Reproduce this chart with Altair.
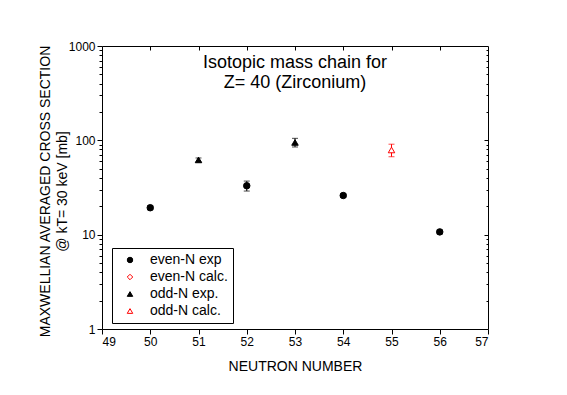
import altair as alt
import pandas as pd

# ---- data ----
neutrons = [50, 51, 52, 53, 54, 55, 56]
macs = [19.3, 62.0, 33.0, 95.0, 26.0, 79.0, 10.7]
errors = [0.9, 3.0, 4.0, 10.0, 1.0, 12.0, 0.5]
series = ["even-N exp", "odd-N exp.", "even-N exp", "odd-N exp.",
          "even-N exp", "odd-N calc.", "even-N exp"]

series_names = ["even-N exp", "even-N calc.", "odd-N exp.", "odd-N calc."]
series_shapes = ["circle", "diamond", "triangle-up", "triangle-up"]
series_stroke = ["black", "red", "black", "red"]
series_fill = ["black", "white", "black", "white"]

x_ticks = [49, 50, 51, 52, 53, 54, 55, 56, 57]
x_inner_ticks = [50, 51, 52, 53, 54, 55, 56]
y_major = [1, 10, 100, 1000]
y_inner_major = [10, 100]
y_minor = [m * d for d in (1, 10, 100) for m in range(2, 10)]

title_lines = ["Isotopic mass chain for", "Z= 40 (Zirconium)"]
x_title = "NEUTRON NUMBER"
y_title = ["MAXWELLIAN AVERAGED CROSS SECTION", "@ kT= 30 keV [mb]"]

FONT = "Liberation Sans"

df = pd.DataFrame({
    "n": neutrons,
    "v": macs,
    "lo": [v - e for v, e in zip(macs, errors)],
    "hi": [v + e for v, e in zip(macs, errors)],
    "series": series,
})

xs = alt.Scale(domain=[49, 57], nice=False, zero=False)
ys = alt.Scale(type="log", domain=[1, 1000], nice=False)

base = alt.Chart(df)

leg = alt.Legend(
    title=None, orient="none", legendX=10, legendY=202,
    strokeColor="black", padding=5, symbolSize=30, symbolStrokeWidth=1,
    symbolOffset=6, labelOffset=13, labelFont=FONT, labelFontSize=14,
    labelColor="black", rowPadding=3,
)

x_bottom = alt.Axis(values=x_ticks, format="d", tickSize=5, tickColor="black",
                    labelFont=FONT, labelFontSize=12, labelColor="black", labelPadding=2,
                    domain=False, grid=False, title=x_title, titleFont=FONT,
                    titleFontSize=14, titleFontWeight="normal", titleColor="black",
                    titleY=37, titleBaseline="middle")
y_left = alt.Axis(values=y_major, format="d", tickSize=5, tickColor="black",
                  labelFont=FONT, labelFontSize=12, labelColor="black", labelPadding=2,
                  domain=False, grid=False, title=y_title, titleFont=FONT,
                  titleFontSize=14, titleFontWeight="normal", titleColor="black",
                  titleAngle=-90, titleX=-57, titleY=145, titleAlign="center",
                  titleBaseline="middle", titleLineHeight=17)


def X(field, axis=None):
    return alt.X(field, type="quantitative", scale=xs, axis=axis)


def Y(field, axis=None):
    return alt.Y(field, type="quantitative", scale=ys, axis=axis)


layers = []
# error bars: black for measured, red for calculated
for cond, col in (("datum.series != 'odd-N calc.'", "black"), ("datum.series == 'odd-N calc.'", "red")):
    sub = base.transform_filter(cond)
    layers.append(sub.mark_rule(strokeWidth=1, color=col).encode(x=X("n"), y=Y("lo"), y2="hi"))
    layers.append(sub.mark_tick(size=6, thickness=1, orient="horizontal", color=col).encode(x=X("n"), y=Y("lo")))
    layers.append(sub.mark_tick(size=6, thickness=1, orient="horizontal", color=col).encode(x=X("n"), y=Y("hi")))

points = base.mark_point(size=42, strokeWidth=1, opacity=1, fillOpacity=1).encode(
    x=X("n", x_bottom),
    y=Y("v", y_left),
    shape=alt.Shape("series:N", scale=alt.Scale(domain=series_names, range=series_shapes), legend=leg),
    stroke=alt.Stroke("series:N", scale=alt.Scale(domain=series_names, range=series_stroke), legend=leg),
    fill=alt.Fill("series:N", scale=alt.Scale(domain=series_names, range=series_fill), legend=leg),
)
layers.append(points)

title_text = alt.Chart(pd.DataFrame({"k": [0]})).mark_text(
    text=title_lines, font=FONT, fontSize=18, lineHeight=20, align="center",
    baseline="middle", color="black"
).encode(x=alt.value(193), y=alt.value(17))
layers.append(title_text)


def axis_layer(x_axis, y_axis):
    return base.mark_point(opacity=0).encode(x=X("n", x_axis), y=Y("v", y_axis))


layers.append(axis_layer(None, alt.Axis(orient="left", values=y_minor, tickSize=3, tickColor="black",
                                        labels=False, domain=False, grid=False, title=None)))
layers.append(axis_layer(None, alt.Axis(orient="right", values=y_inner_major, tickSize=4, offset=-4,
                                        tickColor="black", labels=False, domain=False, grid=False, title=None)))
layers.append(axis_layer(None, alt.Axis(orient="right", values=y_minor, tickSize=2, offset=-2,
                                        tickColor="black", labels=False, domain=False, grid=False, title=None)))
layers.append(axis_layer(alt.Axis(orient="top", values=x_inner_ticks, tickSize=4, offset=-4,
                                  tickColor="black", labels=False, domain=False, grid=False, title=None), None))

chart = alt.layer(*layers).resolve_scale(
    x="independent", y="independent"
).properties(
    width=386, height=283,
    autosize=alt.AutoSizeParams(type="none"),
    padding={"left": 94, "top": 38, "right": 71, "bottom": 58},
    background="white",
).configure_view(stroke="black", strokeWidth=1)

chart.save("out.html", embed_options={"renderer": "svg", "actions": False})
